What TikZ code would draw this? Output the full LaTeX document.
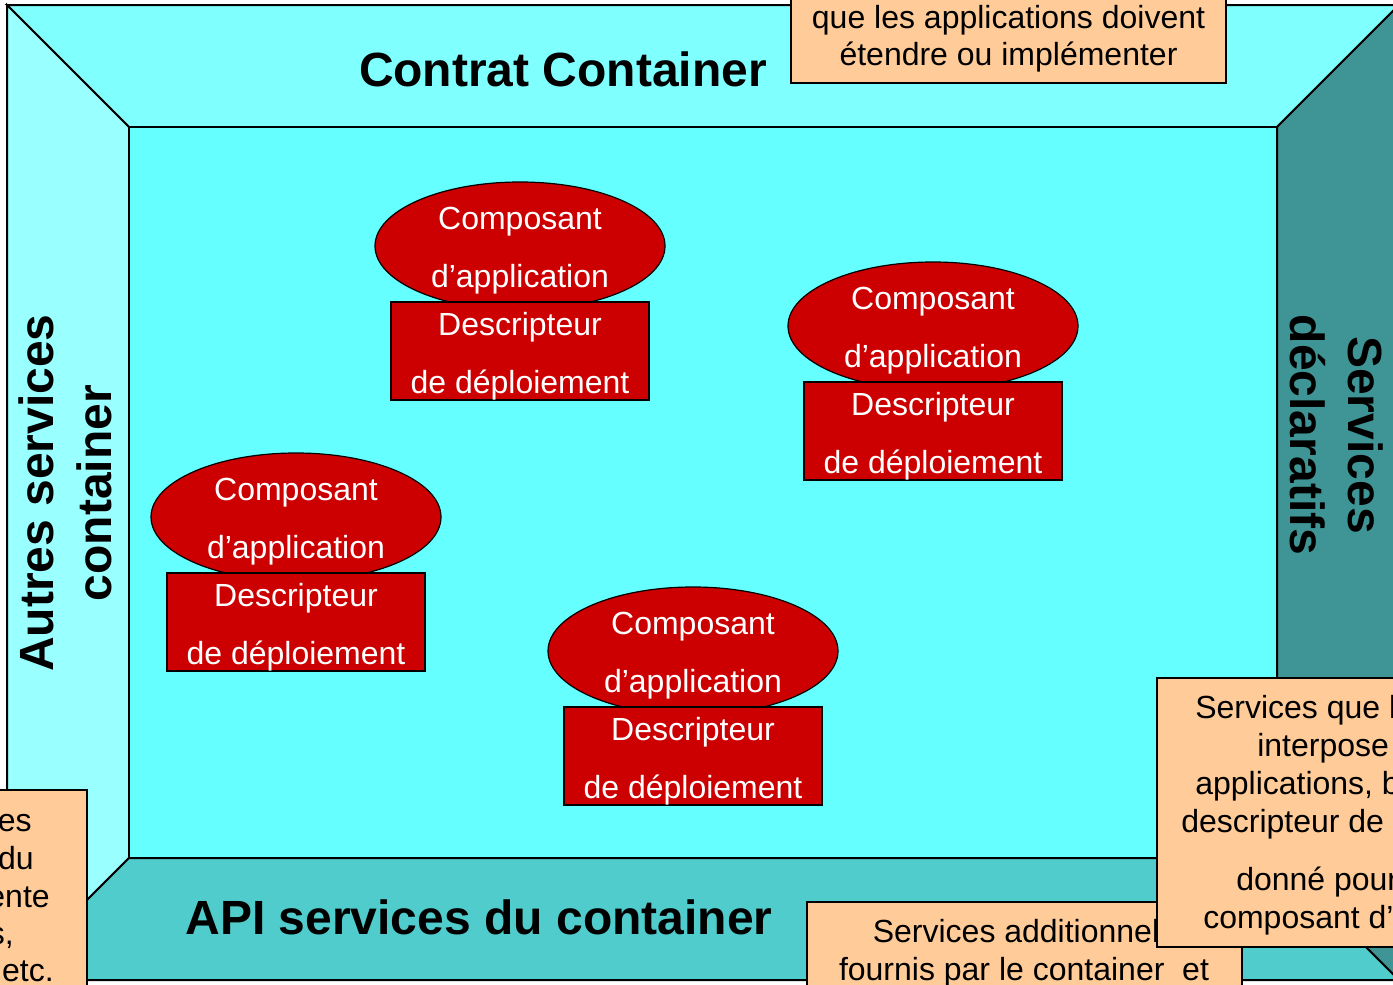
\documentclass[tikz,border=0pt]{standalone}
\usepackage{fontspec}
\setmainfont{Liberation Sans}
\usetikzlibrary{shapes.geometric}
\definecolor{topc}{HTML}{80FFFF}
\definecolor{leftc}{HTML}{99FFFF}
\definecolor{innerc}{HTML}{66FFFF}
\definecolor{botc}{HTML}{50CCCC}
\definecolor{rightc}{HTML}{3F9595}
\definecolor{redc}{HTML}{CC0000}
\definecolor{notec}{HTML}{FFCC99}
\begin{document}
\begin{tikzpicture}[x=0.75pt,y=-0.75pt,
  panel/.style={draw=black,line width=1.5pt,line join=miter},
  compo/.style={ellipse,draw=black,line width=0.9pt,fill=redc,
    minimum width=217.5pt,minimum height=96pt,inner sep=0pt},
  descr/.style={rectangle,draw=black,line width=1pt,fill=redc,
    minimum width=193.5pt,minimum height=73.5pt,inner sep=0pt},
  ctext/.style={text=white,inner sep=0pt,align=center,yshift=-3.7pt,
    font=\fontsize{24}{43.5}\selectfont},
  head/.style={font=\fontsize{36}{43.5}\selectfont\bfseries,inner sep=0pt,align=center},
  notebox/.style={draw=black,line width=1pt,fill=notec},
  notetxt/.style={font=\fontsize{24}{28}\selectfont,inner sep=0pt,anchor=base}
]
\useasboundingbox (0,0) rectangle (1393,985);
\clip (0,0) rectangle (1393,985);
\fill[white] (0,0) rectangle (1393,985);
% frame
\draw[panel,fill=topc] (7,5) -- (1399,5) -- (1277,127) -- (129,127) -- cycle;
\draw[panel,fill=leftc] (7,5) -- (129,127) -- (129,858) -- (7,980) -- cycle;
\draw[panel,fill=botc] (7,980) -- (129,858) -- (1277,858) -- (1399,980) -- cycle;
\draw[panel,fill=rightc] (1399,5) -- (1277,127) -- (1277,858) -- (1399,980) -- cycle;
\draw[panel,fill=innerc] (129,127) rectangle (1277,858);
% headings
\node[head,anchor=base] (contrat) at (563,86) {Contrat Container};
\node[head,anchor=base] (api) at (479,934) {API services du container};
\node[head,rotate=90] (autres) at (65,493) {Autres services\\container};
\node[head,rotate=-90] (decl) at (1337,435) {Services\\déclaratifs};
% components
\node[compo] (e1) at (520,246) {};
\node[ctext] (e1t) at (e1.center) {Composant\\d’application};
\node[descr] (d1) at (520,351) {};
\node[ctext] (d1t) at (d1.center) {Descripteur\\de déploiement};
\node[compo] (e2) at (933,326) {};
\node[ctext] (e2t) at (e2.center) {Composant\\d’application};
\node[descr] (d2) at (933,431) {};
\node[ctext] (d2t) at (d2.center) {Descripteur\\de déploiement};
\node[compo] (e3) at (296,517) {};
\node[ctext] (e3t) at (e3.center) {Composant\\d’application};
\node[descr] (d3) at (296,622) {};
\node[ctext] (d3t) at (d3.center) {Descripteur\\de déploiement};
\node[compo] (e4) at (693,651) {};
\node[ctext] (e4t) at (e4.center) {Composant\\d’application};
\node[descr] (d4) at (693,756) {};
\node[ctext] (d4t) at (d4.center) {Descripteur\\de déploiement};
% top note
\draw[notebox] (791,-40) rectangle (1226,83);
\node[notetxt] (n1a) at (1008.5,28) {que les applications doivent};
\node[notetxt] (n1b) at (1008.5,65) {étendre ou implémenter};
% left note
\draw[notebox] (-40,790) rectangle (87,1010);
\node[notetxt,anchor=base east] (n2a) at (32,831) {es};
\node[notetxt,anchor=base east] (n2b) at (34,869) {du};
\node[notetxt,anchor=base east] (n2c) at (50,907) {ente};
\node[notetxt,anchor=base east] (n2d) at (14,944) {s,};
\node[notetxt,anchor=base east] (n2e) at (54,981) {etc.};
% bottom note
\draw[notebox] (807,902) rectangle (1242,1010);
\node[notetxt] (n3a) at (1024,942) {Services additionnels};
\node[notetxt] (n3b) at (1024,980) {fournis par le container\ \ et};
% right note
\draw[notebox] (1157,678) rectangle (1440,947);
\node[notetxt,anchor=base west] (n4a) at (1195,718) {Services que l};
\node[notetxt,anchor=base west] (n4b) at (1257,756) {interpose};
\node[notetxt,anchor=base west] (n4c) at (1195,794) {applications, b};
\node[notetxt,anchor=base west] (n4d) at (1181,832) {descripteur de d};
\node[notetxt,anchor=base west] (n4e) at (1236,890) {donné pour};
\node[notetxt,anchor=base west] (n4f) at (1203,928) {composant d’};
\end{tikzpicture}
\end{document}
